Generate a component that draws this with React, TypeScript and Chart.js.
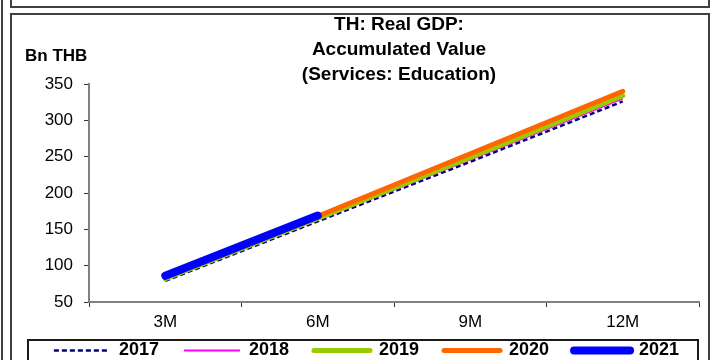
import React, { useEffect, useRef } from 'react';
import { Chart, registerables } from 'chart.js';

Chart.register(...registerables);

const categories = ['3M', '6M', '9M', '12M'];
const values2017 = [79, 161, 243, 326];
const values2018 = [81, 163, 246, 330];
const values2019 = [82, 165, 249, 334];
const values2020 = [84, 168, 254, 340];
const values2021 = [86, 169];
const yMin = 50;
const yMax = 350;
const yStep = 50;
const titleLines = ['TH: Real GDP:', 'Accumulated Value', '(Services: Education)'];
const unitLabel = 'Bn THB';

const FONT = '"Liberation Sans", Arial, Helvetica, sans-serif';

export default function App() {
  const ref = useRef<HTMLCanvasElement>(null);

  useEffect(() => {
    const canvas = ref.current;
    if (!canvas) return;

    const LEGEND_PAD = 25;
    const LEGEND_FONT = 18;

    const decorPlugin = {
      id: 'decor',
      afterLayout(chart: any) {
        const ca = chart.chartArea;
        const t = chart.titleBlock;
        if (t) {
          t.left = ca.left + 10;
          t.right = ca.right;
        }
        const lg = chart.legend;
        if (lg) {
          lg.left = 20;
          lg.right = 713;
          lg.top = 350.5 - LEGEND_FONT / 2 - LEGEND_PAD;
          lg.bottom = 360;
        }
      },
      afterDraw(chart: any) {
        const ctx = chart.ctx;
        const ca = chart.chartArea;
        ctx.save();
        ctx.font = `bold 17px ${FONT}`;
        ctx.fillStyle = '#000';
        ctx.textAlign = 'left';
        ctx.textBaseline = 'middle';
        ctx.fillText(unitLabel, ca.left - 64, ca.top - 28);
        ctx.strokeStyle = '#1a1a1a';
        ctx.lineWidth = 2;
        ctx.strokeRect(28, 340, 670, 60);
        ctx.restore();
      },
    };

    const tickFont = { family: FONT, size: 17 };

    const chart = new Chart(canvas, {
      type: 'line',
      data: {
        labels: categories,
        datasets: [
          { label: '2017', data: values2017, borderColor: '#000080', backgroundColor: '#000080', borderWidth: 2.5, borderDash: [5, 3], order: 4, pointRadius: 0, borderCapStyle: 'butt' },
          { label: '2018', data: values2018, borderColor: '#FF00FF', backgroundColor: '#FF00FF', borderWidth: 2, order: 3, pointRadius: 0 },
          { label: '2019', data: values2019, borderColor: '#99CC00', backgroundColor: '#99CC00', borderWidth: 5, order: 2, pointRadius: 0, borderCapStyle: 'round' },
          { label: '2020', data: values2020, borderColor: '#FF6600', backgroundColor: '#FF6600', borderWidth: 5, order: 1, pointRadius: 0, borderCapStyle: 'round' },
          { label: '2021', data: values2021, borderColor: '#0000FF', backgroundColor: '#0000FF', borderWidth: 8, order: 0, pointRadius: 0, borderCapStyle: 'round' },
        ],
      },
      options: {
        responsive: false,
        animation: false,
        layout: { padding: { top: 12.5, left: 0, right: 13, bottom: 0 } },
        plugins: {
          title: {
            display: true,
            text: titleLines,
            color: '#000',
            font: { family: FONT, size: 19, weight: 'bold', lineHeight: '25px' },
            padding: { top: 0, bottom: -3.5 },
          },
          legend: {
            position: 'bottom',
            maxHeight: 28,
            labels: {
              usePointStyle: true,
              pointStyle: 'line',
              pointStyleWidth: 56,
              padding: LEGEND_PAD,
              color: '#000',
              font: { family: FONT, size: LEGEND_FONT, weight: 'bold' },
              sort: (a: any, b: any) => a.datasetIndex - b.datasetIndex,
              generateLabels: (ch: any) => {
                const items = (Chart as any).defaults.plugins.legend.labels.generateLabels(ch);
                items.forEach((it: any) => {
                  const ds = ch.data.datasets[it.datasetIndex];
                  it.lineDash = ds.borderDash || [];
                  it.lineWidth = ds.borderWidth;
                  it.lineCap = ds.borderCapStyle || 'butt';
                  it.strokeStyle = ds.borderColor;
                });
                return items;
              },
            },
          },
          tooltip: { enabled: false },
        },
        scales: {
          x: {
            offset: true,
            grid: { display: true, drawOnChartArea: false, offset: true, tickLength: 5, color: '#333' },
            border: { display: true, color: '#808080', width: 2 },
            ticks: { font: tickFont, color: '#000', padding: 5 },
            afterFit: (s: any) => { s.height = 30; },
          },
          y: {
            min: yMin,
            max: yMax,
            ticks: { stepSize: yStep, font: tickFont, color: '#000', padding: 11 },
            grid: { display: true, drawOnChartArea: false, tickLength: 5, color: '#333' },
            border: { display: true, color: '#808080', width: 2 },
            afterFit: (s: any) => { s.width = 89; },
          },
        },
      },
      plugins: [decorPlugin],
    } as any);

    return () => chart.destroy();
  }, []);

  const line = '#404040';
  return (
    <div style={{ position: 'fixed', left: 0, top: 0, width: 712, height: 360, overflow: 'hidden', background: '#fff' }}>
      <div style={{ position: 'absolute', left: 1, top: 0, width: 2, height: 360, background: line }} />
      <div style={{ position: 'absolute', left: 10, top: -10, width: 700, height: 18, border: `2px solid ${line}`, boxSizing: 'border-box' }} />
      <div style={{ position: 'absolute', left: 10, top: 13, width: 700, height: 400, border: `2px solid ${line}`, boxSizing: 'border-box' }} />
      <canvas ref={ref} width={712} height={360} style={{ position: 'absolute', left: 0, top: 0, display: 'block' }} />
    </div>
  );
}
